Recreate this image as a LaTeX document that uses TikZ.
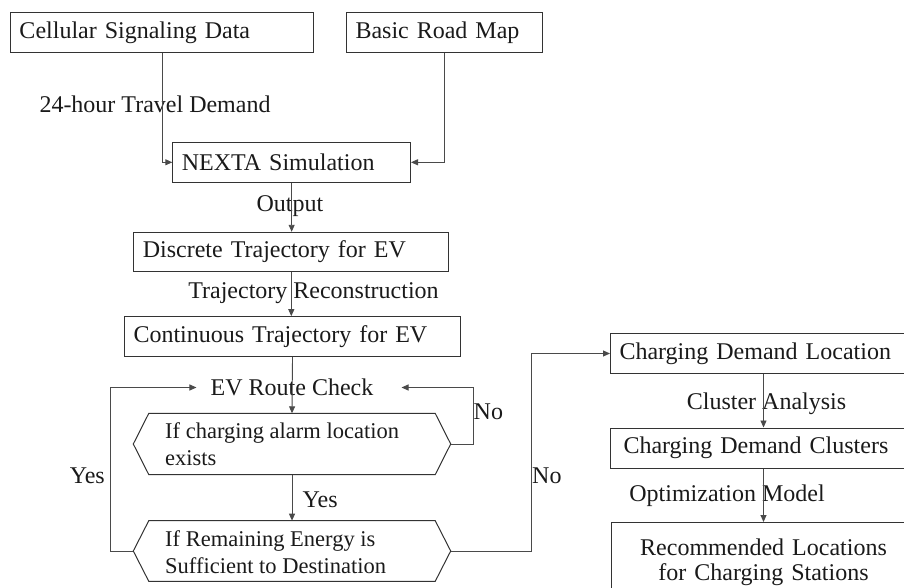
\documentclass[tikz,border=0pt]{standalone}
\usepackage{fontspec}
\setmainfont{Liberation Serif}
\usetikzlibrary{arrows.meta}
\definecolor{linec}{HTML}{4A4A4A}
\definecolor{boxc}{HTML}{333333}
\definecolor{txtc}{HTML}{1A1A1A}
\begin{document}
\begin{tikzpicture}[x=1pt,y=-1pt,
  font=\fontsize{24}{26}\selectfont, text=txtc,
  box/.style={draw=boxc, line width=1pt, inner xsep=9pt, inner ysep=0pt, minimum height=40pt, align=left, anchor=west},
  lbl/.style={inner sep=0pt},
  arr/.style={draw=linec, line width=0.9pt, -{Triangle[length=7pt,width=6pt]}},
  hexfr/.style={draw=boxc, line width=1pt},
  hexbase/.style={minimum width=317pt, inner sep=0pt},
  hextxt/.style={inner sep=0pt, align=left, anchor=west, font=\fontsize{22.5}{26.5}\selectfont}]
\useasboundingbox (0,0) rectangle (904,588);
\clip (0,0) rectangle (904,588);

% boxes
\node[box, text width=285pt] (cell) at (10,33) {Cellular Signaling Data};
\node[box, text width=178pt] (road) at (346,32.5) {Basic Road Map};
\node[box, text width=219.7pt, minimum height=39.5pt] (nexta) at (172.3,162.3) {NEXTA Simulation};
\node[box, text width=297pt, minimum height=39.4pt] (disc) at (133.3,252) {Discrete Trajectory for EV};
\node[box, text width=318pt] (cont) at (124,336.7) {Continuous Trajectory for EV};
\node[inner xsep=14pt, inner ysep=0pt] (evrc) at (292,387.5) {EV Route Check};

% hexagons
\node[hexbase, minimum height=61pt] (hexA) at (292,444) {};
\draw[hexfr] (hexA.west) -- ([xshift=15.5pt]hexA.north west) -- ([xshift=-15.5pt]hexA.north east) -- (hexA.east) -- ([xshift=-15.5pt]hexA.south east) -- ([xshift=15.5pt]hexA.south west) -- cycle;
\node[hextxt] (hexAt) at (165,444) {If charging alarm location\\exists};
\node[hexbase, minimum height=60.3pt] (hexB) at (292,551) {};
\draw[hexfr] (hexB.west) -- ([xshift=15.5pt]hexB.north west) -- ([xshift=-15.5pt]hexB.north east) -- (hexB.east) -- ([xshift=-15.5pt]hexB.south east) -- ([xshift=15.5pt]hexB.south west) -- cycle;
\node[hextxt] (hexBt) at (165,552) {If Remaining Energy is\\Sufficient to Destination};

% right column
\node[box, text width=288pt] (cdl) at (610,353.5) {Charging Demand Location};
\node[box, inner xsep=13pt, text width=280pt] (cdc) at (610,448) {Charging Demand Clusters};
\node[box, anchor=north west, align=center, text width=286pt, minimum height=80pt, font=\fontsize{24}{25}\selectfont] (rec) at (611,522) {Recommended Locations\\for Charging Stations};

% labels
\node[lbl, anchor=west] (l24) at (39.3,104) {24-hour Travel Demand};
\node[lbl] (lout) at (290,206) {Output};
\node[lbl] (ltr) at (313.5,293) {Trajectory Reconstruction};
\node[lbl, anchor=west] (lyes1) at (302.5,500) {Yes};
\node[lbl, anchor=east] (lyes2) at (105,476) {Yes};
\node[lbl, anchor=west] (lno1) at (473.5,412) {No};
\node[lbl, anchor=west] (lno2) at (532,476) {No};
\node[lbl] (lca) at (766.5,404) {Cluster Analysis};
\node[lbl] (lom) at (727,496) {Optimization Model};

% connectors
\draw[arr] (cell.south) |- (nexta.west);
\draw[arr] (road.south) |- (nexta.east);
\draw[arr] (nexta.south) -- (nexta.south |- disc.north);
\draw[arr] (disc.south) -- (disc.south |- cont.north);
\draw[arr] (cont.south) -- (hexA.north);
\draw[arr] (hexA.south) -- (hexB.north);
\draw[arr] (hexA.east) -- ++(22.7,0) |- ([xshift=14pt]evrc.east);
\draw[arr] (hexB.west) -- ++(-22.6,0) |- (evrc.west);
\draw[arr] (hexB.east) -- ++(80.7,0) |- (cdl.west);
\draw[arr] (cdl.south) -- (cdc.north);
\draw[arr] (cdc.south) -- (rec.north);
\end{tikzpicture}
\end{document}
